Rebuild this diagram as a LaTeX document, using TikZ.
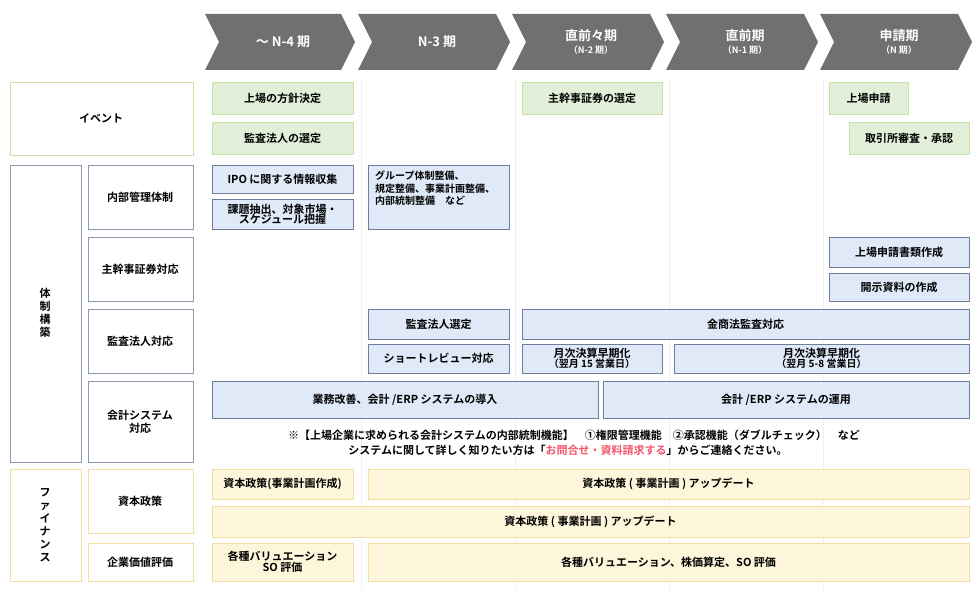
\documentclass[tikz,border=0pt]{standalone}
\usepackage{fontspec}
\setmainfont{Noto Sans CJK JP}[BoldFont={* Bold}]
\definecolor{bfill}{HTML}{DFE9F8}\definecolor{bdraw}{HTML}{6F7E9C}
\definecolor{gfill}{HTML}{E2EFD9}\definecolor{gdraw}{HTML}{C6E3A6}
\definecolor{yfill}{HTML}{FDF6DA}\definecolor{ydraw}{HTML}{F4DDA2}
\definecolor{chev}{HTML}{707070}\definecolor{pinkc}{HTML}{F2566A}
\newcommand\mfs{\fontsize{11}{13}\selectfont}
\begin{document}
\begin{tikzpicture}[x=1pt,y=-1pt,
 bx/.style={draw=bdraw,fill=bfill,line width=0.9pt},
 gx/.style={draw=gdraw,fill=gfill,line width=0.9pt},
 yx/.style={draw=ydraw,fill=yfill,line width=0.9pt},
 lx/.style={draw=bdraw!80,fill=white,line width=0.9pt},
 tx/.style={align=center,inner sep=0pt,font=\bfseries\mfs}]
\useasboundingbox (0,0) rectangle (980,596);
% grid lines
\foreach \x in {361,515,669,823} \draw[gray!12,line width=0.6pt] (\x,78) -- (\x,590);
% chevrons
\foreach \a/\b/\t [count=\i] in {205/355/{〜 N-4 期},358/510/{N-3 期},512/664/{直前々期\\[-2pt]{\fontsize{9}{10}\selectfont（N-2 期）}},666/818/{直前期\\[-2pt]{\fontsize{9}{10}\selectfont（N-1 期）}},820/972/{申請期\\[-2pt]{\fontsize{9}{10}\selectfont（N 期）}}}{
 \fill[chev] (\a,14) -- (\b-14,14) -- (\b,42) -- (\b-14,70) -- (\a,70) -- (\a+14,42) -- cycle;
 \node[tx,text=white,font=\fontsize{13}{15}\selectfont\bfseries] (c\i) at ({(\a+\b)/2+3},42) {\t};}
% left labels
\draw[draw=gdraw,fill=white,line width=0.9pt] (10,82) rectangle (193,155);
\node[tx] (ev) at (101,118) {イベント};
\draw[lx] (10,165) rectangle (81,462);
\node[tx] (tai) at (45,313) {体\\制\\構\\築};
\foreach \y/\h/\t [count=\i] in {165/229/内部管理体制,237/301/主幹事証券対応,309/373/監査法人対応,381/462/{会計システム\\対応}}{
 \draw[lx] (88,\y) rectangle (193,\h);
 \node[tx] (s\i) at (140,{(\y+\h)/2}) {\t};}
\draw[draw=ydraw,fill=white,line width=0.9pt] (10,469) rectangle (81,581);
\node[tx,text width=12pt] (fin) at (45,525) {フ\\ァ\\イ\\ナ\\ン\\ス};
\foreach \y/\h/\t [count=\i] in {469/533/資本政策,543/581/企業価値評価}{
 \draw[draw=ydraw,fill=white,line width=0.9pt] (88,\y) rectangle (193,\h);
 \node[tx] (f\i) at (140,{(\y+\h)/2}) {\t};}
% content boxes
\newcommand\bxx[6]{\draw[#1] (#2,#3) rectangle (#4,#5); \node[tx] at ({(#2+#4)/2},{(#3+#5)/2}) {#6};}
\bxx{gx}{212}{82}{353}{114}{上場の方針決定}
\bxx{gx}{212}{122}{353}{154}{監査法人の選定}
\bxx{gx}{522}{82}{662}{114}{主幹事証券の選定}
\bxx{gx}{829}{82}{908}{114}{上場申請}
\bxx{gx}{849}{122}{969}{154}{取引所審査・承認}
\bxx{bx}{212}{165}{353}{193}{IPO に関する情報収集}
\bxx{bx}{212}{199}{353}{229}{課題抽出、対象市場・\\[-3pt]スケジュール把握}
\draw[bx] (368,165) rectangle (509,229);
\node[tx,font=\bfseries\fontsize{10}{12.5}\selectfont,align=left,anchor=north west] (grp) at (375,171) {グループ体制整備、\\規定整備、事業計画整備、\\内部統制整備　など};
\bxx{bx}{829}{237}{969}{267}{上場申請書類作成}
\bxx{bx}{829}{273}{969}{301}{開示資料の作成}
\bxx{bx}{368}{309}{509}{339}{監査法人選定}
\bxx{bx}{522}{309}{969}{339}{金商法監査対応}
\bxx{bx}{368}{344}{509}{373}{ショートレビュー対応}
\bxx{bx}{522}{344}{662}{373}{月次決算早期化\\[-3pt]{\fontsize{10}{10}\selectfont（翌月 15 営業日）}}
\bxx{bx}{674}{344}{969}{373}{月次決算早期化\\[-3pt]{\fontsize{10}{10}\selectfont（翌月 5-8 営業日）}}
\bxx{bx}{212}{381}{598}{418}{業務改善、会計 /ERP システムの導入}
\bxx{bx}{603}{381}{969}{418}{会計 /ERP システムの運用}
\node[tx] (n1) at (574,435) {※【上場企業に求められる会計システムの内部統制機能】　①権限管理機能　②承認機能（ダブルチェック）　など};
\node[tx] (n2) at (568,450) {システムに関して詳しく知りたい方は「\textcolor{pinkc}{お問合せ・資料請求する}」からご連絡ください。};
\bxx{yx}{212}{469}{353}{499}{資本政策(事業計画作成)}
\bxx{yx}{368}{469}{969}{499}{資本政策 ( 事業計画 ) アップデート}
\bxx{yx}{212}{506}{969}{537}{資本政策 ( 事業計画 ) アップデート}
\bxx{yx}{212}{543}{353}{581}{各種バリュエーション\\[-2pt]SO 評価}
\bxx{yx}{368}{543}{969}{581}{各種バリュエーション、株価算定、SO 評価}
\end{tikzpicture}
\end{document}
